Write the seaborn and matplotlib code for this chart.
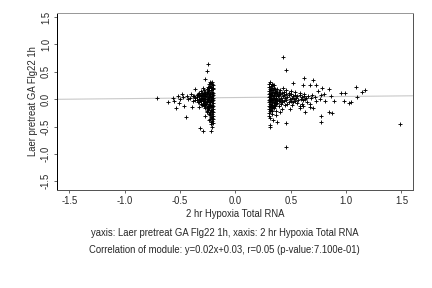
import numpy as np
import pandas as pd
import matplotlib
matplotlib.use("Agg")
import matplotlib.pyplot as plt
import seaborn as sns

# regression summary shown under the plot
slope = 0.02
intercept = 0.03

# left group of genes (x < 0)
left_x = [-0.71, -0.61, -0.56, -0.52, -0.48, -0.55, -0.51, -0.54, -0.46, -0.45,
          -0.39, -0.36, -0.43, -0.32, -0.29, -0.22, -0.22, -0.24, -0.27, -0.25,
          -0.26, -0.27, -0.23, -0.21, -0.50, -0.47, -0.44, -0.41, -0.40, -0.38,
          -0.37, -0.35, -0.34, -0.33, -0.33, -0.31, -0.30, -0.30,
          -0.38, -0.36, -0.34, -0.32, -0.30, -0.28, -0.36, -0.32, -0.30, -0.29,
          -0.20, -0.20, -0.20, -0.205, -0.20, -0.20, -0.205, -0.20, -0.20, -0.205, -0.20, -0.20, -0.20, -0.20,
          -0.21, -0.215, -0.21, -0.21, -0.215, -0.21, -0.21, -0.215, -0.21, -0.21, -0.215, -0.21, -0.21, -0.21,
          -0.22, -0.22, -0.225, -0.22, -0.22, -0.225, -0.22, -0.22, -0.225, -0.22, -0.22, -0.22,
          -0.23, -0.235, -0.23, -0.23, -0.235, -0.23, -0.23, -0.235, -0.23, -0.23, -0.23,
          -0.24, -0.245, -0.24, -0.24, -0.245, -0.24, -0.24, -0.245, -0.24, -0.24,
          -0.25, -0.255, -0.25, -0.25, -0.255, -0.25, -0.25, -0.255, -0.25,
          -0.26, -0.265, -0.26, -0.26, -0.265, -0.26, -0.26, -0.26,
          -0.27, -0.275, -0.27, -0.27, -0.275, -0.27, -0.27,
          -0.28, -0.285, -0.28, -0.28, -0.28, -0.28,
          -0.29, -0.295, -0.29, -0.29, -0.29,
          -0.31, -0.31, -0.31, -0.31,
          -0.33, -0.33, -0.33,
          -0.35, -0.35]
left_y = [0.03, -0.05, 0.03, 0.05, 0.09, -0.04, -0.07, -0.17, -0.12, -0.33,
          -0.15, 0.18, 0.01, -0.52, -0.59, -0.59, -0.46, -0.38, -0.30, 0.64,
          0.51, 0.36, 0.32, 0.32, 0.00, 0.04, 0.06, 0.02, 0.09, -0.04,
          0.05, 0.08, -0.06, 0.12, -0.14, 0.15, -0.10, 0.05,
          0.06, 0.03, 0.10, 0.08, 0.12, 0.17, -0.01, -0.02, 0.00, 0.20,
          0.25, 0.18, 0.12, 0.08, 0.03, -0.02, -0.07, -0.12, -0.18, -0.24, -0.31, -0.37, -0.43, 0.21,
          0.28, 0.20, 0.14, 0.06, 0.01, -0.04, -0.10, -0.15, -0.21, -0.27, -0.34, -0.40, -0.50, 0.10,
          0.22, 0.16, 0.09, 0.04, -0.01, -0.06, -0.13, -0.19, -0.26, -0.33, 0.30, -0.41,
          0.24, 0.17, 0.11, 0.05, 0.00, -0.05, -0.11, -0.17, -0.23, -0.29, -0.36,
          0.20, 0.13, 0.07, 0.02, -0.03, -0.08, -0.14, -0.20, -0.27, 0.27,
          0.15, 0.09, 0.04, -0.01, -0.06, -0.12, -0.18, -0.24, 0.22,
          0.12, 0.06, 0.01, -0.04, -0.09, -0.15, -0.21, 0.18,
          0.10, 0.05, 0.00, -0.05, -0.11, -0.17, 0.14,
          0.08, 0.03, -0.02, -0.07, -0.13, 0.12,
          0.06, 0.01, -0.04, -0.09, 0.10,
          0.07, 0.02, -0.03, -0.08,
          0.05, 0.00, -0.05,
          0.04, -0.02]

# right group of genes (x > 0)
right_x = [0.43, 0.46, 0.46, 1.49, 0.31, 0.31, 0.46, 0.38, 0.34, 0.30,
           0.63, 0.77, 0.77, 0.85, 0.87, 1.03, 1.04, 1.09, 1.14, 1.17,
           1.10, 0.98, 0.95, 0.99, 0.89, 0.85, 0.80, 0.86, 0.81, 0.73,
           0.70, 0.62, 0.67, 0.61, 0.52, 0.78, 0.75, 0.67, 0.70, 0.61,
           0.58, 0.49, 0.40, 0.42, 0.37, 0.33, 0.31, 0.33, 0.35,
           0.30, 0.30, 0.305, 0.30, 0.30, 0.305, 0.30, 0.30, 0.305, 0.30,
           0.31, 0.315, 0.31, 0.31, 0.315, 0.31, 0.31, 0.315, 0.31,
           0.32, 0.32, 0.325, 0.32, 0.32, 0.325, 0.32, 0.32, 0.32,
           0.33, 0.335, 0.33, 0.33, 0.335, 0.33, 0.33, 0.33,
           0.34, 0.345, 0.34, 0.34, 0.345, 0.34, 0.34,
           0.35, 0.355, 0.35, 0.35, 0.355, 0.35, 0.35,
           0.36, 0.365, 0.36, 0.36, 0.36, 0.36,
           0.37, 0.375, 0.37, 0.37, 0.37, 0.37,
           0.38, 0.385, 0.38, 0.38, 0.38,
           0.39, 0.395, 0.39, 0.39, 0.39,
           0.40, 0.41, 0.40, 0.40, 0.41,
           0.42, 0.43, 0.42, 0.42, 0.43,
           0.44, 0.45, 0.44, 0.44, 0.45,
           0.46, 0.47, 0.46, 0.46, 0.47,
           0.48, 0.49, 0.48, 0.48,
           0.50, 0.51, 0.50, 0.50, 0.51,
           0.52, 0.53, 0.52,
           0.54, 0.55, 0.54, 0.54,
           0.56, 0.57, 0.56,
           0.58, 0.59, 0.58, 0.58,
           0.60, 0.61, 0.60,
           0.62, 0.63, 0.62,
           0.64, 0.65,
           0.66, 0.67,
           0.68, 0.69,
           0.72, 0.73,
           0.76, 0.77]
right_y = [0.77, 0.53, -0.88, -0.46, -0.51, -0.48, -0.44, -0.41, -0.38, -0.30,
           -0.24, -0.30, -0.41, -0.23, -0.25, -0.07, -0.05, 0.22, 0.13, 0.17,
           0.04, -0.03, 0.12, 0.12, -0.03, 0.18, 0.10, 0.05, -0.04, 0.26,
           0.35, 0.38, 0.26, 0.26, 0.29, 0.20, 0.15, -0.15, -0.17, -0.13,
           -0.16, -0.18, -0.24, -0.18, -0.21, -0.21, 0.31, 0.28, 0.26,
           0.22, 0.15, 0.09, 0.04, -0.01, -0.06, -0.12, -0.18, -0.25, 0.27,
           0.19, 0.12, 0.06, 0.01, -0.04, -0.09, -0.15, -0.22, -0.34,
           0.24, 0.16, 0.10, 0.03, -0.02, -0.08, -0.13, -0.20, 0.08,
           0.20, 0.13, 0.07, 0.00, -0.05, -0.11, -0.17, -0.27,
           0.17, 0.11, 0.05, -0.01, -0.07, -0.14, 0.25,
           0.21, 0.14, 0.08, 0.02, -0.03, -0.10, -0.16,
           0.12, 0.06, 0.00, -0.06, -0.12, 0.18,
           0.15, 0.09, 0.03, -0.02, -0.09, -0.28,
           0.11, 0.05, -0.01, -0.07, 0.19,
           0.13, 0.07, 0.01, -0.04, -0.12,
           0.09, 0.03, -0.03, 0.16, -0.09,
           0.11, 0.05, -0.01, -0.06, 0.20,
           0.08, 0.02, -0.04, 0.14, -0.11,
           0.10, 0.04, -0.02, 0.17, -0.08,
           0.07, 0.01, -0.05, 0.12,
           0.09, 0.03, -0.03, 0.15, -0.10,
           0.06, 0.00, -0.06,
           0.08, 0.02, -0.04, 0.13,
           0.05, -0.01, -0.07,
           0.07, 0.01, 0.11, -0.12,
           0.04, -0.02, -0.08,
           0.06, 0.00, 0.10,
           0.03, -0.05,
           0.05, -0.09,
           0.02, 0.08,
           0.04, -0.03,
           0.01, 0.07]

x_ticks = [-1.5, -1.0, -0.5, 0.0, 0.5, 1.0, 1.5]
y_ticks = [-1.5, -1.0, -0.5, 0.0, 0.5, 1.0, 1.5]

x_name = "2 hr Hypoxia Total RNA"
y_name = "Laer pretreat GA Flg22 1h"

df = pd.DataFrame({"x": left_x + right_x, "y": left_y + right_y})

sns.set_style("white")
plt.rcParams["font.family"] = ["Liberation Sans", "DejaVu Sans"]

fig = plt.figure(figsize=(6, 4), dpi=72)
ax = fig.add_axes([0.132, 0.34, 0.823, 0.616])

ax.axline((0, intercept), slope=slope, color="#c8c8c8", lw=1.1, zorder=1)
sns.scatterplot(data=df, x="x", y="y", marker="+", color="black", s=22,
                linewidth=0.9, ax=ax, zorder=2)

ax.set_xlim(-1.61, 1.60)
ax.set_ylim(-1.66, 1.58)
ax.set_xticks(x_ticks)
ax.set_yticks(y_ticks)
ax.set_xticklabels([f"{t:.1f}" for t in x_ticks], fontsize=9.5)
ax.set_yticklabels([f"{t:.1f}" for t in y_ticks], fontsize=9.5,
                   rotation=90, va="center")
ax.tick_params(axis="both", direction="out", length=3, width=0.8,
               color="#444444", pad=3, left=True, bottom=True)
ax.set_xlabel(x_name, fontsize=9.5, labelpad=3)
ax.set_ylabel(y_name, fontsize=9.5, labelpad=3)

ax.spines["left"].set_color("black")
ax.spines["bottom"].set_color("#555555")
ax.spines["top"].set_color("#999999")
ax.spines["right"].set_color("#555555")
for sp in ax.spines.values():
    sp.set_linewidth(1.0)

fig.text(0.52, 0.191, f"yaxis: {y_name}, xaxis: {x_name}",
         ha="center", va="center", fontsize=9.5)
fig.text(0.52, 0.132,
         "Correlation of module: y=0.02x+0.03, r=0.05 (p-value:7.100e-01)",
         ha="center", va="center", fontsize=9.5)

fig.savefig("out.png", dpi=72)
